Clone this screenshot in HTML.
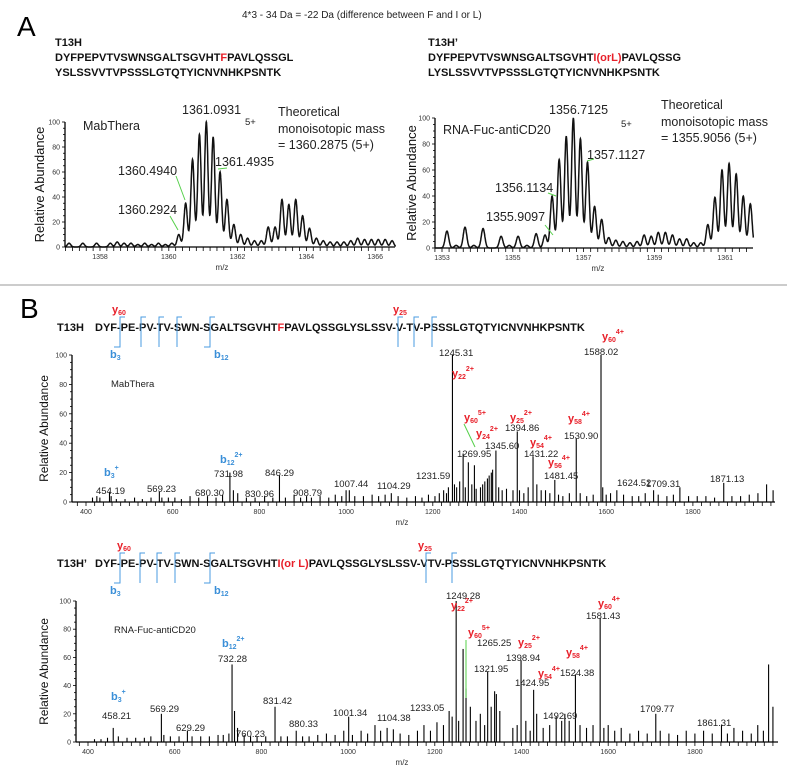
<!DOCTYPE html>
<html><head><meta charset="utf-8"><style>
body{margin:0;background:#fff}
svg{display:block;font-family:"Liberation Sans",sans-serif}
.seq{font-weight:bold;font-size:11px;fill:#111}
.lbl{font-size:12.5px;fill:#222}
.sm{font-size:9.5px;fill:#222}
.tick{font-size:7px;fill:#333}
.red{fill:#e8202a;font-weight:bold}
.blue{fill:#3a8fd8;font-weight:bold}
</style></head><body>
<svg id="fig" width="787" height="775" viewBox="0 0 787 775">
<g>
<text x="17" y="36" font-size="28">A</text>
<text x="242" y="18" font-size="10" fill="#222">4*3 - 34 Da = -22 Da (difference between F and I or L)</text>
<text class="seq" x="55" y="46">T13H</text>
<text class="seq" x="55" y="61">DYFPEPVTVSWNSGALTSGVHT<tspan fill="#e8202a">F</tspan>PAVLQSSGL</text>
<text class="seq" x="55" y="76">YSLSSVVTVPSSSLGTQTYICNVNHKPSNTK</text>
<text class="seq" x="428" y="46">T13H’</text>
<text class="seq" x="428" y="61">DYFPEPVTVSWNSGALTSGVHT<tspan fill="#e8202a">I(orL)</tspan>PAVLQSSG</text>
<text class="seq" x="428" y="76">LYSLSSVVTVPSSSLGTQTYICNVNHKPSNTK</text>
</g>
<g id="a1"></g>
<g id="a2"></g>
<line x1="0" y1="285" x2="787" y2="285" stroke="#999" stroke-width="1"/>
<text x="20" y="318" font-size="28">B</text>
<g id="b1"></g>
<g id="b2"></g>
</svg>
<script>
// ---- Panel A data ----
const a1Mz=[1357.1,1357.5,1357.9,1358.3,1358.5,1358.7,1358.9,1359.1,1359.3,1359.5,1359.7,1359.9,1360.09,1360.29,1360.49,1360.69,1360.89,1361.09,1361.29,1361.49,1361.69,1361.89,1362.09,1362.29,1362.49,1362.69,1362.89,1363.09,1363.29,1363.49,1363.69,1363.89,1364.09,1364.29,1364.49,1364.69,1364.89,1365.09,1365.29,1365.49,1365.69,1365.89,1366.09,1366.29,1366.49];
const a1H=[3,3,3,3,4,3,3,2,3,2,3,2,3,10,35,70,90,100,88,60,38,18,10,7,5,5,16,16,38,34,38,25,15,7,5,4,4,4,5,7,6,6,6,6,5];
const a2Mz=[1353.14,1353.4,1353.65,1353.9,1354.16,1354.67,1354.9,1355.15,1355.4,1355.66,1355.91,1356.11,1356.31,1356.51,1356.71,1356.91,1357.11,1357.31,1357.51,1357.71,1357.91,1358.11,1358.31,1358.51,1358.71,1358.91,1359.11,1359.31,1359.51,1359.71,1359.91,1360.11,1360.31,1360.51,1360.71,1360.91,1361.11,1361.31,1361.51,1361.71];
const a2H=[13,2,16,2,15,9,2,9,2,11,10,40,68,86,100,84,66,32,22,8,6,5,4,5,10,9,12,12,10,7,7,4,4,18,39,60,65,57,40,34];
const a1Ticks=[1358,1360,1362,1364,1366];
const a2Ticks=[1353,1355,1357,1359,1361];
const yTicks=[0,20,40,60,80,100];
// ---- Panel B data ----
const b1Mz=[415,425,432,454.19,458,470,490,512,530,550,569.23,575,590,605,620,640,660,680.3,700,715,731.98,740,750,770,790,812,830.96,846.29,860,880,895,908.79,920,940,960,975,990,1000,1007.44,1020,1040,1060,1075,1090,1104.29,1120,1140,1160,1175,1190,1205,1215,1225,1231.59,1236,1245.31,1250,1255,1262,1269.95,1275,1282,1290,1296,1300,1310,1315,1320,1326,1330,1335,1338,1345.6,1352,1360,1370,1385,1394.86,1400,1410,1420,1431.22,1440,1450,1460,1470,1481.45,1490,1500,1515,1530.9,1540,1555,1570,1588.02,1592,1600,1610,1624.52,1640,1660,1675,1690,1709.31,1720,1740,1755,1770,1790,1810,1830,1850,1871.13,1890,1910,1930,1950,1970,1985];
const b1H=[3,4,3,7,4,2,2,3,2,3,7,3,3,3,2,4,3,4,3,5,20,8,6,3,3,4,3,18,3,5,3,4,3,4,3,5,4,8,8,4,4,5,4,5,6,4,3,4,3,5,4,6,8,6,10,100,12,10,14,33,10,27,12,25,9,10,12,14,16,18,20,22,35,10,8,9,8,48,8,6,10,31,12,8,8,6,15,5,4,6,43,6,4,5,100,10,5,6,8,5,4,4,6,8,5,4,5,10,4,4,4,3,13,4,4,5,6,12,8];
const b2Mz=[415,430,445,458.21,470,490,510,530,545,569.29,575,590,610,629.29,640,660,680,700,712,725,732.28,738,745,760.23,775,790,810,831.42,845,860,880.33,895,910,930,950,970,990,1001.34,1010,1030,1045,1062,1075,1090,1104.38,1120,1140,1160,1175,1190,1205,1220,1233.05,1240,1249.28,1255,1265.25,1272,1282,1295,1305,1315,1321.95,1330,1338,1342,1350,1380,1390,1398.94,1410,1420,1428,1435,1450,1465,1480,1492.69,1500,1510,1524.38,1535,1550,1565,1581.43,1590,1600,1615,1630,1650,1670,1690,1709.77,1720,1740,1760,1780,1800,1820,1840,1861.31,1875,1890,1910,1930,1945,1958,1970,1980];
const b2H=[2,2,3,10,4,3,3,3,4,20,5,4,4,8,4,4,4,5,5,6,55,22,10,5,4,4,4,25,4,4,8,4,4,5,6,5,8,18,5,8,6,12,8,10,9,6,5,8,12,8,14,12,22,18,100,15,66,38,25,15,20,12,50,25,36,34,22,10,12,58,15,8,37,20,10,12,18,15,20,15,48,12,10,12,88,10,12,8,10,6,8,6,20,8,6,5,8,6,8,6,12,6,10,8,6,12,8,55,25];
const bTicks=[400,600,800,1000,1200,1400,1600,1800];

const NS="http://www.w3.org/2000/svg";
function mk(parent,tag,attrs,txt){const e=document.createElementNS(NS,tag);for(const k in attrs)e.setAttribute(k,attrs[k]);if(txt!==undefined)e.textContent=txt;parent.appendChild(e);return e;}

function axes(g,o){
  const yl=mk(g,'line',{x1:o.x0,y1:o.y0,x2:o.x0,y2:o.y100,stroke:'#000','stroke-width':1.3});
  
  
  for(let v=0;v<=100;v+=5){const y=o.y0-(o.y0-o.y100)*v/100;mk(g,'line',{x1:o.x0-(v%20?2:3),y1:y,x2:o.x0,y2:y,stroke:'#000','stroke-width':0.8});}
  yTicks.forEach(v=>{const y=o.y0-(o.y0-o.y100)*v/100;const t=mk(g,'text',{x:o.x0-5,y:y+2.5,'text-anchor':'end',class:'tick'},String(v));
    
    });
  const xl=mk(g,'line',{x1:o.x0,y1:o.y0,x2:o.xEnd,y2:o.y0,stroke:'#000','stroke-width':1.3});
  
  
  for(let m=o.minorStart;o.sx(m)<=o.xEnd;m+=o.minor){mk(g,'line',{x1:o.sx(m),y1:o.y0,x2:o.sx(m),y2:o.y0+4,stroke:'#000','stroke-width':0.8});}
  o.ticks.forEach(v=>{const t=mk(g,'text',{x:o.sx(v),y:o.y0+12,'text-anchor':'middle',class:'tick'},String(v));
    
    });
  const xt=mk(g,'text',{x:o.mzx,y:o.y0+23,'text-anchor':'middle','font-size':o.mzfs||8,fill:'#333'},'m/z');
  
  
  const cy=(o.y0+o.y100)/2;
  const yt=mk(g,'text',{x:o.ylx,y:cy,'text-anchor':'middle','font-size':o.ylfs||13,fill:'#111',transform:`rotate(-90 ${o.ylx} ${cy})`},'Relative Abundance');
  
  
}

function profile(g,mz,h,o,sig){
  let d='';const lo=o.minMz,hi=o.maxMz;
  for(let m=lo;m<=hi;m+=0.005){let s=0;for(let i=0;i<mz.length;i++){const dd=(m-mz[i])/sig;if(Math.abs(dd)<5)s+=h[i]*Math.exp(-dd*dd/2);}
    d+=(d?'L':'M')+o.sx(m).toFixed(1)+','+o.sy(s).toFixed(1);}
  const p=mk(g,'path',{d:d,fill:'none',stroke:'#111','stroke-width':1.5});
  
  
}
function sticks(g,mz,h,o){
  mz.forEach((m,i)=>{const l=mk(g,'line',{x1:o.sx(m),y1:o.y0,x2:o.sx(m),y2:o.sy(h[i]),stroke:'#000','stroke-width':1.1});
    
    });
}
function txt(g,x,y,s,cls,name,extra){const t=mk(g,'text',Object.assign({x:x,y:y,class:cls},extra||{}));t.innerHTML=s;
  
  return t;}
function gl(g,x1,y1,x2,y2){mk(g,'line',{x1,y1,x2,y2,stroke:'#55d04a','stroke-width':1});}

// ---- A left ----
(function(){
  const g=document.getElementById('a1');
  const o={x0:65,y0:247,y100:122,xEnd:395,minMz:1357.0,maxMz:1366.6};
  o.sx=m=>100+(m-1358)*34.4;o.sy=v=>o.y0-(o.y0-o.y100)*v/100;
  o.ticks=a1Ticks;o.minor=0.2;o.minorStart=1357.0;o.mzx=222;o.ylx=44;
  axes(g,o);profile(g,a1Mz,a1H,o,0.05);
  txt(g,83,130,'MabThera','lbl','sample-label');
  txt(g,182,114,'1361.0931','lbl','peak-label');
  txt(g,245,125,'5+','sm','charge-label');
  txt(g,278,116,'Theoretical','lbl','theoretical-label');
  txt(g,278,133,'monoisotopic mass','lbl','theoretical-label');
  txt(g,278,149,'= 1360.2875 (5+)','lbl','theoretical-label');
  txt(g,118,175,'1360.4940','lbl','peak-label');
  txt(g,215,166,'1361.4935','lbl','peak-label');
  txt(g,118,214,'1360.2924','lbl','peak-label');
  gl(g,176,176,185,200);gl(g,170,216,178,230);gl(g,218,169,227,168);
})();
// ---- A right ----
(function(){
  const g=document.getElementById('a2');
  const o={x0:435,y0:248,y100:118,xEnd:753,minMz:1352.8,maxMz:1361.8};
  o.sx=m=>442+(m-1353)*35.4;o.sy=v=>o.y0-(o.y0-o.y100)*v/100;
  o.ticks=a2Ticks;o.minor=0.2;o.minorStart=1352.8;o.mzx=598;o.ylx=416;
  axes(g,o);profile(g,a2Mz,a2H,o,0.05);
  txt(g,443,134,'RNA-Fuc-antiCD20','lbl','sample-label');
  txt(g,549,114,'1356.7125','lbl','peak-label');
  txt(g,621,127,'5+','sm','charge-label');
  txt(g,661,109,'Theoretical','lbl','theoretical-label');
  txt(g,661,126,'monoisotopic mass','lbl','theoretical-label');
  txt(g,661,142,'= 1355.9056 (5+)','lbl','theoretical-label');
  txt(g,587,159,'1357.1127','lbl','peak-label');
  txt(g,495,192,'1356.1134','lbl','peak-label');
  txt(g,486,221,'1355.9097','lbl','peak-label');
  gl(g,545,225,553,235);gl(g,548,193,556,196);gl(g,587,161,594,159);
})();

function seqBlock(g,y,name,seqHtml,brX,br2X,y60x,y25x){
  txt(g,57,y,name,'seq','sequence-name');
  txt(g,95,y,seqHtml,'seq','sequence');
  const top=y-14,bot=y+16;
  brX.forEach((x,i)=>{
    let d='M'+(x+5)+','+top+'H'+x+'V'+bot;
    if(i===0||i===brX.length-1) d='M'+(x+5)+','+top+'H'+x+'V'+bot+'H'+(x-6);
    mk(g,'path',{d:d,fill:'none',stroke:'#4a9be0','stroke-width':1});
  });
  br2X.forEach(x=>mk(g,'path',{d:'M'+(x+5)+','+top+'H'+x+'V'+bot,fill:'none',stroke:'#4a9be0','stroke-width':1}));
  txt(g,y60x,top-4,'y<tspan font-size="7" dy="2">60</tspan>','red','y60-ion-label',{'font-size':11});
  txt(g,y25x,top-4,'y<tspan font-size="7" dy="2">25</tspan>','red','y25-ion-label',{'font-size':11});
  txt(g,brX[0]-10,bot+11,'b<tspan font-size="7" dy="2">3</tspan>','blue','b3-ion-label',{'font-size':11});
  txt(g,brX[brX.length-1]+4,bot+11,'b<tspan font-size="7" dy="2">12</tspan>','blue','b12-ion-label',{'font-size':11});
}
function ion(g,x,y,s,ch,sup,cls){
  return txt(g,x,y,s+'<tspan font-size="7" dy="2">'+ch+'</tspan><tspan font-size="7" dy="-8">'+sup+'</tspan>',cls||'red','ion-label',{'font-size':11});
}

// ---- B top ----
(function(){
  const g=document.getElementById('b1');
  const o={x0:72,y0:502,y100:355,xEnd:775};
  o.sx=m=>86+(m-400)*0.4335;o.sy=v=>o.y0-(o.y0-o.y100)*v/100;
  o.ticks=bTicks;o.minor=20;o.minorStart=380;o.mzx=402;o.ylx=48;o.ylfs=12;
  seqBlock(g,331,'T13H','DYF-PE-PV-TV-SWN-SGALTSGVHT<tspan fill="#e8202a">F</tspan>PAVLQSSGLYSLSSV-V-TV-PSSSLGTQTYICNVNHKPSNTK',[120,141,159,177,210],[398,414,432],112,393);
  axes(g,o);sticks(g,b1Mz,b1H,o);
  const L=(x,y,s,c)=>txt(g,x,y,s,c||'sm','peak-label',{'font-size':c?undefined:10});
  txt(g,111,387,'MabThera','sm','sample-label',{'font-size':11});
  ion(g,104,476,'b','3','+','blue');
  L(96,494,'454.19');L(147,492,'569.23');L(195,496,'680.30');
  ion(g,220,463,'b','12','2+','blue');L(214,477,'731.98');L(265,476,'846.29');
  txt(g,245,497,'830.96','sm','peak-label',{'font-size':8});L(293,496,'908.79');
  txt(g,334,487,'1007.44','sm','peak-label',{'font-size':8});L(377,489,'1104.29');
  txt(g,416,479,'1231.59','sm','peak-label',{'font-size':8});
  L(439,356,'1245.31');ion(g,452,377,'y','22','2+');
  ion(g,464,421,'y','60','5+');gl(g,464,424,475,447);
  L(457,457,'1269.95');ion(g,476,437,'y','24','2+');L(485,449,'1345.60');
  ion(g,510,421,'y','25','2+');L(505,431,'1394.86');
  ion(g,530,446,'y','54','4+');L(524,457,'1431.22');
  ion(g,548,466,'y','56','4+');txt(g,544,479,'1481.45','sm','peak-label',{'font-size':8});
  ion(g,568,422,'y','58','4+');L(564,439,'1530.90');
  ion(g,602,340,'y','60','4+');L(584,355,'1588.02');
  L(617,486,'1624.52');txt(g,646,487,'1709.31','sm','peak-label',{'font-size':8});L(710,482,'1871.13');
})();
// ---- B bottom ----
(function(){
  const g=document.getElementById('b2');
  const o={x0:76,y0:742,y100:601,xEnd:778};
  o.sx=m=>88+(m-400)*0.4335;o.sy=v=>o.y0-(o.y0-o.y100)*v/100;
  o.ticks=bTicks;o.minor=20;o.minorStart=380;o.mzx=402;o.ylx=48;o.ylfs=12;
  seqBlock(g,567,'T13H’','DYF-PE-PV-TV-SWN-SGALTSGVHT<tspan fill="#e8202a">I(or L)</tspan>PAVLQSSGLYSLSSV-VTV-PSSSLGTQTYICNVNHKPSNTK',[120,140,157,175,210],[426,452],117,418);
  axes(g,o);sticks(g,b2Mz,b2H,o);
  const L=(x,y,s)=>txt(g,x,y,s,'sm','peak-label',{'font-size':10});
  txt(g,114,633,'RNA-Fuc-antiCD20','sm','sample-label',{'font-size':11});
  ion(g,111,700,'b','3','+','blue');L(102,719,'458.21');L(150,712,'569.29');L(176,731,'629.29');
  ion(g,222,647,'b','12','2+','blue');L(218,662,'732.28');L(236,737,'760.23');
  L(263,704,'831.42');L(289,727,'880.33');L(333,716,'1001.34');
  txt(g,377,721,'1104.38','sm','peak-label',{'font-size':8});L(410,711,'1233.05');
  L(446,599,'1249.28');ion(g,451,609,'y','22','2+');
  ion(g,468,636,'y','60','5+');L(477,646,'1265.25');gl(g,466,640,466,698);
  L(474,672,'1321.95');ion(g,518,646,'y','25','2+');L(506,661,'1398.94');
  ion(g,538,677,'y','54','4+');L(515,686,'1424.95');
  ion(g,566,656,'y','58','4+');L(560,676,'1524.38');
  txt(g,543,719,'1492.69','sm','peak-label',{'font-size':8});
  ion(g,598,607,'y','60','4+');L(586,619,'1581.43');
  L(640,712,'1709.77');L(697,726,'1861.31');
})();
</script>
</body></html>
